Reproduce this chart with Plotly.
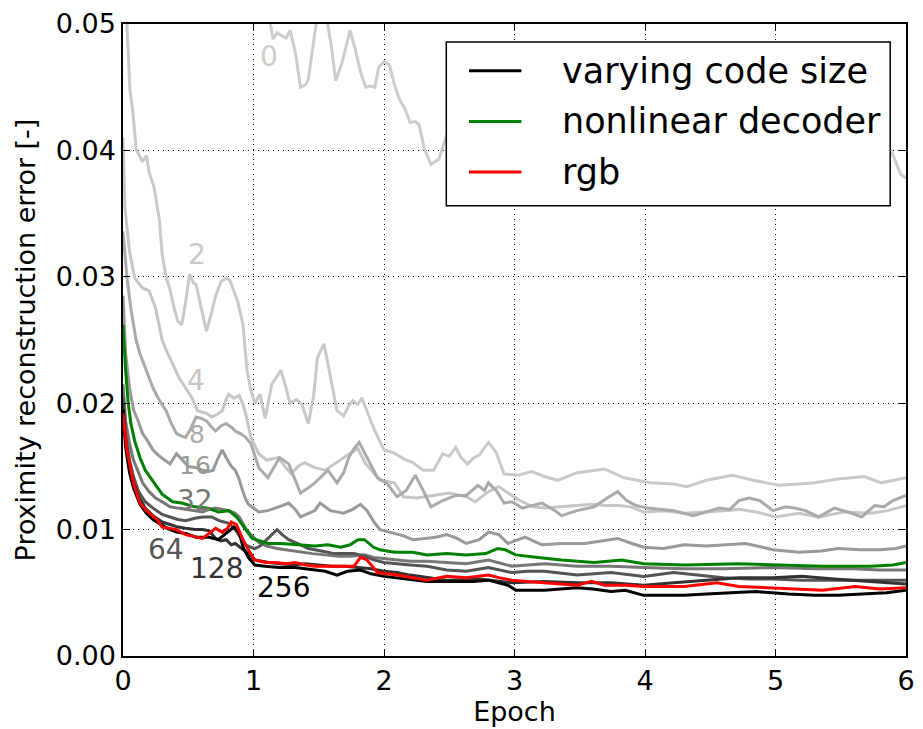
import plotly.graph_objects as go

# ---- training curves: epoch positions and reconstruction error per code size ----
e0 = [0.00, 0.40, 0.80, 1.05, 1.10, 1.13, 1.15, 1.18, 1.21, 1.25, 1.28, 1.32, 1.36, 1.40, 1.42, 1.45, 1.48, 1.52, 1.56, 1.60,
      1.63, 1.68, 1.74, 1.78, 1.82, 1.86, 1.89, 1.93, 1.96, 2.00, 2.04, 2.08, 2.12, 2.16, 2.20, 2.24, 2.27, 2.31, 2.36, 2.42,
      2.48, 2.60, 2.80, 3.00, 3.30, 3.60, 4.00, 4.40, 4.80, 5.20, 5.50, 5.75, 5.89, 5.96, 6.00]
v0 = [0.0800, 0.0650, 0.0560, 0.0515, 0.0505, 0.0500, 0.0488, 0.0493, 0.0491, 0.0489, 0.0495, 0.0478, 0.0450, 0.0452, 0.0456,
      0.0480, 0.0500, 0.0512, 0.0505, 0.0480, 0.0455, 0.0470, 0.0495, 0.0480, 0.0462, 0.0450, 0.0451, 0.0450, 0.0466, 0.0470,
      0.0468, 0.0452, 0.0440, 0.0433, 0.0422, 0.0423, 0.0420, 0.0401, 0.0389, 0.0393, 0.0412, 0.0430, 0.0440, 0.0435, 0.0445,
      0.0432, 0.0425, 0.0418, 0.0428, 0.0415, 0.0420, 0.0410, 0.0399, 0.0381, 0.0378]

e2 = [0.00, 0.03, 0.053, 0.076, 0.10, 0.15, 0.18, 0.20, 0.24, 0.28, 0.30, 0.33, 0.36, 0.39, 0.42, 0.45, 0.48, 0.51, 0.54,
      0.56, 0.60, 0.64, 0.68, 0.71, 0.75, 0.79, 0.82, 0.85, 0.88, 0.92, 0.95, 0.98, 1.01, 1.05, 1.09, 1.14, 1.21, 1.25, 1.28,
      1.33, 1.37, 1.42, 1.46, 1.49, 1.54, 1.58, 1.64, 1.69, 1.73, 1.76, 1.80, 1.83, 1.87, 1.93, 2.00, 2.07, 2.15, 2.22, 2.30,
      2.38, 2.45, 2.50, 2.55, 2.59, 2.64, 2.69, 2.73, 2.80, 2.86, 2.92, 3.03, 3.13, 3.23, 3.33, 3.48, 3.60, 3.69, 3.84, 4.04,
      4.22, 4.32, 4.47, 4.67, 4.83, 5.03, 5.18, 5.30, 5.48, 5.68, 5.81, 5.90, 6.00]
v2 = [0.0540, 0.0500, 0.0448, 0.0430, 0.0401, 0.0391, 0.0396, 0.0383, 0.0370, 0.0344, 0.0318, 0.0300, 0.0290, 0.0276,
      0.0265, 0.0262, 0.0280, 0.0302, 0.0295, 0.0294, 0.0275, 0.0257, 0.0272, 0.0285, 0.0296, 0.0299, 0.0297, 0.0289, 0.0280,
      0.0262, 0.0226, 0.0210, 0.0200, 0.0207, 0.0188, 0.0215, 0.0226, 0.0212, 0.0200, 0.0203, 0.0199, 0.0184, 0.0205, 0.0236,
      0.0247, 0.0226, 0.0194, 0.0190, 0.0198, 0.0202, 0.0199, 0.0204, 0.0194, 0.0178, 0.0163, 0.0161, 0.0156, 0.0153, 0.0147,
      0.0147, 0.0160, 0.0158, 0.0165, 0.0157, 0.0152, 0.0157, 0.0159, 0.0169, 0.0161, 0.0144, 0.0143, 0.0146, 0.0142, 0.0139,
      0.0145, 0.0147, 0.0148, 0.0141, 0.0137, 0.0136, 0.0134, 0.0139, 0.0143, 0.0139, 0.0135, 0.0136, 0.0137, 0.0140, 0.0142,
      0.0137, 0.0139, 0.0141]

e4 = [0.00, 0.015, 0.05, 0.09, 0.15, 0.20, 0.25, 0.30, 0.34, 0.38, 0.43, 0.48, 0.53, 0.57, 0.61, 0.64, 0.68, 0.72, 0.76,
      0.79, 0.81, 0.85, 0.89, 0.92, 0.94, 0.98, 1.04, 1.10, 1.19, 1.24, 1.29, 1.34, 1.39, 1.47, 1.55, 1.62, 1.69, 1.75, 1.80,
      1.86, 1.92, 1.97, 2.08, 2.15, 2.25, 2.38, 2.50, 2.63, 2.70, 2.80, 2.88, 2.98, 3.06, 3.14, 3.23, 3.35, 3.48, 3.60, 3.69,
      3.80, 3.89, 3.99, 4.15, 4.30, 4.47, 4.60, 4.72, 4.85, 5.00, 5.18, 5.33, 5.53, 5.73, 5.86, 6.00]
v4 = [0.0410, 0.0354, 0.0320, 0.0299, 0.0291, 0.0289, 0.0275, 0.0250, 0.0240, 0.0231, 0.0220, 0.0212, 0.0204, 0.0194,
      0.0193, 0.0192, 0.0189, 0.0191, 0.0194, 0.0203, 0.0207, 0.0204, 0.0206, 0.0199, 0.0192, 0.0173, 0.0160, 0.0155, 0.0157,
      0.0150, 0.0144, 0.0150, 0.0153, 0.0149, 0.0147, 0.0152, 0.0157, 0.0161, 0.0164, 0.0152, 0.0145, 0.0139, 0.0137, 0.0126,
      0.0125, 0.0127, 0.0129, 0.0126, 0.0122, 0.0130, 0.0134, 0.0127, 0.0122, 0.0118, 0.0117, 0.0118, 0.0119, 0.0120, 0.0119,
      0.0119, 0.0118, 0.0114, 0.0115, 0.0113, 0.0114, 0.0115, 0.0116, 0.0114, 0.0110, 0.0113, 0.0110, 0.0114, 0.0113, 0.0115,
      0.0119]

e8 = [0.00, 0.03, 0.06, 0.10, 0.13, 0.18, 0.23, 0.28, 0.33, 0.37, 0.41, 0.45, 0.48, 0.52, 0.56, 0.60, 0.64, 0.68, 0.71,
      0.75, 0.79, 0.83, 0.86, 0.90, 0.94, 0.98, 1.04, 1.11, 1.16, 1.20, 1.27, 1.32, 1.36, 1.42, 1.47, 1.52, 1.57, 1.64, 1.69,
      1.73, 1.77, 1.81, 1.87, 1.95, 2.02, 2.10, 2.17, 2.24, 2.30, 2.36, 2.45, 2.55, 2.63, 2.72, 2.77, 2.80, 2.86, 2.92, 2.98,
      3.06, 3.13, 3.21, 3.31, 3.36, 3.48, 3.61, 3.71, 3.79, 3.86, 3.93, 4.02, 4.22, 4.37, 4.57, 4.65, 4.72, 4.80, 4.88, 4.98,
      5.08, 5.15, 5.23, 5.33, 5.45, 5.58, 5.66, 5.76, 5.83, 5.90, 6.00]
v8 = [0.0336, 0.0300, 0.0275, 0.0250, 0.0239, 0.0225, 0.0212, 0.0202, 0.0194, 0.0184, 0.0176, 0.0174, 0.0173, 0.0180,
      0.0189, 0.0188, 0.0186, 0.0181, 0.0178, 0.0182, 0.0184, 0.0181, 0.0178, 0.0176, 0.0173, 0.0168, 0.0149, 0.0141, 0.0150,
      0.0157, 0.0152, 0.0140, 0.0129, 0.0133, 0.0137, 0.0142, 0.0147, 0.0137, 0.0145, 0.0157, 0.0164, 0.0169, 0.0157, 0.0141,
      0.0137, 0.0126, 0.0131, 0.0143, 0.0131, 0.0118, 0.0123, 0.0127, 0.0127, 0.0135, 0.0131, 0.0137, 0.0131, 0.0121, 0.0122,
      0.0117, 0.0119, 0.0121, 0.0115, 0.0111, 0.0115, 0.0118, 0.0125, 0.0130, 0.0123, 0.0119, 0.0117, 0.0115, 0.0111, 0.0117,
      0.0116, 0.0123, 0.0125, 0.0123, 0.0115, 0.0118, 0.0117, 0.0115, 0.0110, 0.0117, 0.0113, 0.0110, 0.0119, 0.0118, 0.0123,
      0.0127]

e16 = [0.00, 0.02, 0.05, 0.08, 0.12, 0.15, 0.19, 0.23, 0.28, 0.33, 0.36, 0.41, 0.46, 0.50, 0.56, 0.61, 0.66, 0.69, 0.73,
       0.76, 0.79, 0.83, 0.86, 0.89, 0.91, 0.94, 0.96, 1.01, 1.04, 1.11, 1.17, 1.22, 1.27, 1.32, 1.36, 1.42, 1.47, 1.51, 1.55,
       1.59, 1.64, 1.69, 1.76, 1.82, 1.87, 1.93, 1.97, 2.07, 2.15, 2.22, 2.30, 2.40, 2.48, 2.56, 2.63, 2.73, 2.80, 2.88, 2.95,
       3.08, 3.21, 3.36, 3.54, 3.67, 3.79, 3.90, 3.99, 4.14, 4.30, 4.47, 4.60, 4.77, 4.90, 4.98, 5.18, 5.35, 5.48, 5.65, 5.81,
       5.92, 6.00]
v16 = [0.0285, 0.0240, 0.0212, 0.0195, 0.0185, 0.0176, 0.0170, 0.0163, 0.0158, 0.0154, 0.0152, 0.0160, 0.0154, 0.0150,
       0.0149, 0.0147, 0.0146, 0.0147, 0.0157, 0.0163, 0.0157, 0.0150, 0.0147, 0.0140, 0.0133, 0.0124, 0.0120, 0.0116, 0.0114,
       0.0115, 0.0117, 0.0119, 0.0121, 0.0116, 0.0110, 0.0113, 0.0115, 0.0121, 0.0118, 0.0115, 0.0114, 0.0113, 0.0116, 0.0120,
       0.0115, 0.0105, 0.0100, 0.0097, 0.0095, 0.0092, 0.0093, 0.0094, 0.0096, 0.0093, 0.0089, 0.0092, 0.0098, 0.0096, 0.0089,
       0.0094, 0.0088, 0.0089, 0.0089, 0.0091, 0.0093, 0.0089, 0.0086, 0.0085, 0.0088, 0.0087, 0.0088, 0.0089, 0.0086, 0.0084,
       0.0082, 0.0083, 0.0085, 0.0084, 0.0084, 0.0085, 0.0087]

e32 = [0.00, 0.02, 0.05, 0.08, 0.12, 0.15, 0.20, 0.25, 0.30, 0.36, 0.42, 0.48, 0.55, 0.61, 0.66, 0.71, 0.76, 0.81, 0.86,
       0.89, 0.94, 0.98, 1.04, 1.10, 1.18, 1.25, 1.35, 1.45, 1.55, 1.65, 1.75, 1.85, 1.92, 2.00, 2.10, 2.20, 2.33, 2.48, 2.63,
       2.80, 2.98, 3.10, 3.23, 3.48, 3.74, 3.99, 4.30, 4.60, 4.98, 5.30, 5.60, 5.80, 6.00]
v32 = [0.0215, 0.0186, 0.0168, 0.0155, 0.0145, 0.0137, 0.0130, 0.0125, 0.0122, 0.0118, 0.0117, 0.0116, 0.0115, 0.0114,
       0.0116, 0.0117, 0.0116, 0.0115, 0.0113, 0.0110, 0.0101, 0.0096, 0.0090, 0.0087, 0.0085, 0.0084, 0.0082, 0.0081, 0.0080,
       0.0079, 0.0079, 0.0080, 0.0078, 0.0077, 0.0076, 0.0075, 0.0075, 0.0074, 0.0073, 0.0076, 0.0071, 0.0072, 0.0073, 0.0071,
       0.0071, 0.0070, 0.0069, 0.0069, 0.0070, 0.0069, 0.0069, 0.0068, 0.0068]

e64 = [0.00, 0.02, 0.05, 0.08, 0.12, 0.17, 0.23, 0.30, 0.36, 0.42, 0.48, 0.55, 0.61, 0.68, 0.74, 0.81, 0.86, 0.90, 0.94,
       0.98, 1.01, 1.05, 1.09, 1.13, 1.18, 1.22, 1.27, 1.34, 1.42, 1.52, 1.62, 1.70, 1.77, 1.85, 1.92, 2.00, 2.08, 2.20, 2.33,
       2.48, 2.63, 2.80, 2.98, 3.10, 3.23, 3.48, 3.74, 3.99, 4.22, 4.40, 4.60, 4.80, 4.98, 5.20, 5.40, 5.60, 5.80, 6.00]
v64 = [0.0205, 0.0175, 0.0155, 0.0142, 0.0130, 0.0122, 0.0117, 0.0112, 0.0110, 0.0108, 0.0107, 0.0109, 0.0110, 0.0110,
       0.0107, 0.0105, 0.0100, 0.0094, 0.0088, 0.0086, 0.0085, 0.0087, 0.0091, 0.0095, 0.0100, 0.0096, 0.0092, 0.0089, 0.0085,
       0.0083, 0.0081, 0.0081, 0.0081, 0.0079, 0.0076, 0.0074, 0.0073, 0.0072, 0.0071, 0.0068, 0.0067, 0.0070, 0.0066, 0.0067,
       0.0067, 0.0064, 0.0066, 0.0063, 0.0066, 0.0064, 0.0062, 0.0061, 0.0061, 0.0060, 0.0060, 0.0060, 0.0060, 0.0060]

e128 = [0.00, 0.02, 0.05, 0.08, 0.12, 0.17, 0.23, 0.30, 0.36, 0.42, 0.48, 0.55, 0.61, 0.66, 0.71, 0.75, 0.79, 0.83, 0.86,
        0.91, 0.96, 1.01, 1.06, 1.12, 1.20, 1.30, 1.40, 1.50, 1.60, 1.70, 1.80, 1.90, 2.00, 2.10, 2.20, 2.33, 2.48, 2.73, 2.98,
        3.23, 3.48, 3.74, 3.99, 4.22, 4.47, 4.72, 4.98, 5.20, 5.45, 5.73, 6.00]
v128 = [0.0200, 0.0170, 0.0150, 0.0137, 0.0126, 0.0117, 0.0111, 0.0106, 0.0104, 0.0102, 0.0101, 0.0100, 0.0100, 0.0099,
        0.0093, 0.0091, 0.0092, 0.0088, 0.0089, 0.0085, 0.0081, 0.0076, 0.0075, 0.0074, 0.0073, 0.0072, 0.0073, 0.0072, 0.0071,
        0.0071, 0.0070, 0.0069, 0.0067, 0.0066, 0.0064, 0.0062, 0.0060, 0.0061, 0.0058, 0.0059, 0.0058, 0.0058, 0.0056, 0.0058,
        0.0060, 0.0062, 0.0062, 0.0063, 0.0061, 0.0059, 0.0057]

e256 = [0.00, 0.02, 0.05, 0.08, 0.13, 0.18, 0.23, 0.28, 0.34, 0.41, 0.48, 0.56, 0.61, 0.66, 0.73, 0.79, 0.82, 0.85, 0.89,
        0.92, 0.96, 1.01, 1.09, 1.20, 1.32, 1.45, 1.55, 1.64, 1.72, 1.82, 1.90, 2.00, 2.15, 2.33, 2.48, 2.68, 2.80, 2.88, 2.95,
        3.01, 3.10, 3.23, 3.48, 3.60, 3.74, 3.85, 3.99, 4.30, 4.47, 4.65, 4.85, 5.10, 5.30, 5.48, 5.70, 5.85, 6.00]
v256 = [0.0195, 0.0165, 0.0145, 0.0133, 0.0120, 0.0113, 0.0108, 0.0105, 0.0101, 0.0098, 0.0097, 0.0094, 0.0094, 0.0094,
        0.0092, 0.0097, 0.0100, 0.0102, 0.0098, 0.0086, 0.0078, 0.0072, 0.0071, 0.0070, 0.0070, 0.0068, 0.0067, 0.0064, 0.0067,
        0.0068, 0.0065, 0.0063, 0.0061, 0.0059, 0.0059, 0.0059, 0.0060, 0.0058, 0.0056, 0.0052, 0.0052, 0.0052, 0.0054, 0.0053,
        0.0051, 0.0052, 0.0048, 0.0048, 0.0049, 0.0050, 0.0051, 0.0049, 0.0048, 0.0048, 0.0049, 0.0050, 0.0052]

e_nonlin = [0.00, 0.01, 0.02, 0.04, 0.06, 0.09, 0.13, 0.17, 0.23, 0.30, 0.38, 0.45, 0.55, 0.65, 0.73, 0.81, 0.87, 0.94,
            0.99, 1.05, 1.11, 1.21, 1.32, 1.47, 1.57, 1.67, 1.74, 1.80, 1.85, 1.92, 1.97, 2.08, 2.22, 2.33, 2.48, 2.63, 2.78,
            2.87, 2.93, 3.01, 3.18, 3.36, 3.61, 3.82, 3.99, 4.30, 4.72, 5.03, 5.36, 5.73, 5.90, 6.00]
v_nonlin = [0.0262, 0.0240, 0.0226, 0.0200, 0.0184, 0.0170, 0.0157, 0.0147, 0.0138, 0.0128, 0.0122, 0.0121, 0.0118,
            0.0117, 0.0114, 0.0115, 0.0110, 0.0100, 0.0093, 0.0091, 0.0089, 0.0089, 0.0088, 0.0087, 0.0088, 0.0086, 0.0088,
            0.0092, 0.0092, 0.0086, 0.0084, 0.0082, 0.0082, 0.0080, 0.0081, 0.0080, 0.0081, 0.0085, 0.0084, 0.0080, 0.0078,
            0.0076, 0.0074, 0.0076, 0.0073, 0.0072, 0.0073, 0.0072, 0.0071, 0.0071, 0.0072, 0.0074]

e_rgb = [0.00, 0.03, 0.08, 0.13, 0.18, 0.26, 0.30, 0.36, 0.41, 0.48, 0.56, 0.61, 0.66, 0.71, 0.76, 0.80, 0.83, 0.87, 0.91,
         0.96, 1.01, 1.09, 1.17, 1.25, 1.32, 1.40, 1.47, 1.57, 1.67, 1.77, 1.82, 1.87, 1.95, 2.10, 2.33, 2.48, 2.63, 2.73,
         2.80, 2.88, 2.98, 3.10, 3.23, 3.35, 3.48, 3.59, 3.69, 3.85, 3.99, 4.30, 4.55, 4.72, 4.98, 5.15, 5.36, 5.61, 5.80,
         6.00]
v_rgb = [0.0192, 0.0163, 0.0137, 0.0121, 0.0115, 0.0108, 0.0102, 0.0101, 0.0100, 0.0096, 0.0094, 0.0093, 0.0097, 0.0101,
         0.0098, 0.0101, 0.0106, 0.0104, 0.0094, 0.0084, 0.0076, 0.0074, 0.0074, 0.0073, 0.0074, 0.0072, 0.0071, 0.0071,
         0.0071, 0.0071, 0.0078, 0.0076, 0.0066, 0.0064, 0.0060, 0.0063, 0.0062, 0.0063, 0.0064, 0.0062, 0.0060, 0.0059,
         0.0058, 0.0057, 0.0056, 0.0059, 0.0056, 0.0056, 0.0055, 0.0055, 0.0058, 0.0055, 0.0054, 0.0053, 0.0052, 0.0055,
         0.0053, 0.0054]

code_sizes = ["0", "2", "4", "8", "16", "32", "64", "128", "256"]
size_epochs = [e0, e2, e4, e8, e16, e32, e64, e128, e256]
size_errors = [v0, v2, v4, v8, v16, v32, v64, v128, v256]
size_colors = ["#cccccc", "#c9c9c9", "#c6c6c6", "#aaaaaa", "#999999", "#777777", "#555555", "#333333", "#000000"]

# where each code-size label sits (epoch, error) and its text size
label_epochs = [1.12, 0.57, 0.56, 0.57, 0.55, 0.55, 0.33, 0.72, 1.23]
label_errors = [0.0474, 0.0318, 0.0218, 0.01750, 0.01505, 0.0123, 0.0084, 0.0069, 0.0054]
label_sizes = [28, 28, 28, 25, 25, 28, 28, 28, 28]

legend_names = ["varying code size", "nonlinear decoder", "rgb"]
legend_colors = ["#000000", "#008000", "#ff0000"]

FONT = "DejaVu Sans"
LW = 3

fig = go.Figure()
for name, ex, ey, col in zip(code_sizes, size_epochs, size_errors, size_colors):
    fig.add_trace(go.Scatter(x=ex, y=ey, mode="lines", name=name, showlegend=False,
                             line=dict(color=col, width=LW)))
fig.add_trace(go.Scatter(x=e_nonlin, y=v_nonlin, mode="lines", name=legend_names[1], showlegend=False,
                         line=dict(color=legend_colors[1], width=LW)))
fig.add_trace(go.Scatter(x=e_rgb, y=v_rgb, mode="lines", name=legend_names[2], showlegend=False,
                         line=dict(color=legend_colors[2], width=LW)))

# code-size labels next to the curves
for name, lx, ly, col, fs in zip(code_sizes, label_epochs, label_errors, size_colors, label_sizes):
    fig.add_annotation(x=lx, y=ly, xref="x", yref="y", text=name, showarrow=False,
                       font=dict(family=FONT, size=fs, color=col), xanchor="center", yanchor="middle")

# framed legend box in the upper right of the axes
box_x0, box_x1, box_y0, box_y1 = 0.4129, 0.9798, 0.7123, 0.9717
fig.add_shape(type="rect", xref="paper", yref="paper", x0=box_x0, x1=box_x1, y0=box_y0, y1=box_y1,
              line=dict(color="black", width=1.5), fillcolor="white", layer="above")
row_y = [0.9261, 0.8459, 0.7657]
for name, col, ry in zip(legend_names, legend_colors, row_y):
    fig.add_shape(type="line", xref="paper", yref="paper", x0=0.4419, x1=0.5088, y0=ry, y1=ry,
                  line=dict(color=col, width=LW), layer="above")
    fig.add_annotation(x=0.5581, y=ry, xref="paper", yref="paper", text=name, showarrow=False,
                       xanchor="left", yanchor="middle", font=dict(family=FONT, size=35, color="black"))

axis_common = dict(
    showline=True, linecolor="black", linewidth=1.5, mirror="ticks",
    ticks="inside", ticklen=7, tickwidth=1.2, tickcolor="black",
    showgrid=True, gridcolor="black", gridwidth=1, griddash="1px,4px",
    zeroline=False, tickfont=dict(family=FONT, size=27, color="black"),
)
fig.update_xaxes(range=[0, 6], tickvals=[0, 1, 2, 3, 4, 5, 6], ticktext=["0", "1", "2", "3", "4", "5", "6"],
                 title=dict(text="Epoch", font=dict(family=FONT, size=27, color="black"), standoff=6),
                 **axis_common)
fig.update_yaxes(range=[0, 0.05], tickvals=[0, 0.01, 0.02, 0.03, 0.04, 0.05],
                 ticktext=["0.00", "0.01", "0.02", "0.03", "0.04", "0.05"],
                 title=dict(text="Proximity reconstruction error [-]",
                            font=dict(family=FONT, size=27, color="black"), standoff=12),
                 **axis_common)
fig.update_layout(width=923, height=729, margin=dict(l=123, r=8, t=21, b=72),
                  paper_bgcolor="white", plot_bgcolor="white", showlegend=False,
                  font=dict(family=FONT, color="black"))
fig.write_html("out.html")
